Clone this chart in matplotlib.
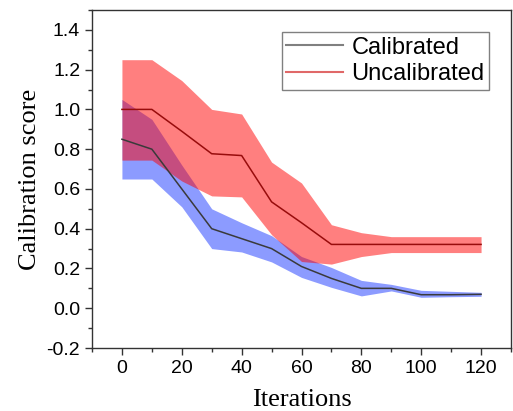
import matplotlib
matplotlib.use("Agg")
import matplotlib.pyplot as plt
from matplotlib.lines import Line2D
from matplotlib.ticker import MultipleLocator
import numpy as np

iterations = [0, 10, 20, 30, 40, 50, 60, 70, 80, 90, 100, 110, 120]

cal_mean  = [0.85, 0.80, 0.60, 0.40, 0.35, 0.30, 0.21, 0.15, 0.10, 0.10, 0.068, 0.068, 0.07]
cal_upper = [1.05, 0.95, 0.72, 0.50, 0.43, 0.365, 0.26, 0.205, 0.14, 0.12, 0.09, 0.085, 0.08]
cal_lower = [0.65, 0.65, 0.51, 0.30, 0.283, 0.233, 0.155, 0.105, 0.062, 0.087, 0.055, 0.058, 0.06]

unc_mean  = [1.00, 1.00, 0.89, 0.777, 0.768, 0.535, 0.43, 0.321, 0.321, 0.321, 0.321, 0.321, 0.321]
unc_upper = [1.25, 1.25, 1.145, 1.00, 0.977, 0.735, 0.63, 0.42, 0.38, 0.36, 0.36, 0.36, 0.36]
unc_lower = [0.745, 0.745, 0.64, 0.565, 0.56, 0.37, 0.235, 0.222, 0.26, 0.28, 0.28, 0.28, 0.28]

labels = ["Calibrated", "Uncalibrated"]

fig = plt.figure(figsize=(5.13, 4.11), dpi=100)
ax = fig.add_axes([92/513, (411-348)/411, (511-92)/513, (348-10)/411])

ax.fill_between(iterations, cal_lower, cal_upper, color=(0.25, 0.35, 1.0), alpha=0.6, linewidth=0)
ax.plot(iterations, cal_mean, color="#3a3a3a", lw=1.1)
ax.fill_between(iterations, unc_lower, unc_upper, color=(1.0, 0.0, 0.0), alpha=0.5, linewidth=0)
ax.plot(iterations, unc_mean, color="#980c0c", lw=1.1)

ax.set_xlim(-10, 130)
ax.set_ylim(-0.2, 1.5)
ax.set_xticks(range(0, 121, 20))
ax.set_yticks(np.arange(-0.2, 1.41, 0.2))
ax.set_yticklabels([f"{v:.1f}" for v in np.arange(-0.2, 1.41, 0.2)])
ax.xaxis.set_minor_locator(MultipleLocator(10))
ax.yaxis.set_minor_locator(MultipleLocator(0.1))
ax.tick_params(which="major", direction="out", length=5, width=1, color="#333333",
               labelsize=14, top=False, right=False)
ax.tick_params(which="minor", direction="out", length=3, width=1, color="#333333",
               top=False, right=False)
for lab in ax.get_xticklabels() + ax.get_yticklabels():
    lab.set_fontfamily("Liberation Sans")
for s in ax.spines.values():
    s.set_color("#333333")
    s.set_linewidth(1)

ax.set_xlabel("Iterations", fontfamily="Liberation Serif", fontsize=19, labelpad=9)
ax.set_ylabel("Calibration score", fontfamily="Liberation Serif", fontsize=19, labelpad=4)

handles = [Line2D([], [], color="#808080", lw=1.5),
           Line2D([], [], color="#e06868", lw=1.5)]
leg = ax.legend(handles, labels, loc="upper right", bbox_to_anchor=(0.948, 0.935),
                borderaxespad=0, fancybox=False, edgecolor="#808080", framealpha=1,
                prop={"family": "Liberation Sans", "size": 17},
                handlelength=2.4, handletextpad=0.35, borderpad=0.2, labelspacing=0.2)
leg.get_frame().set_linewidth(1)

fig.savefig("out.png", dpi=100)
